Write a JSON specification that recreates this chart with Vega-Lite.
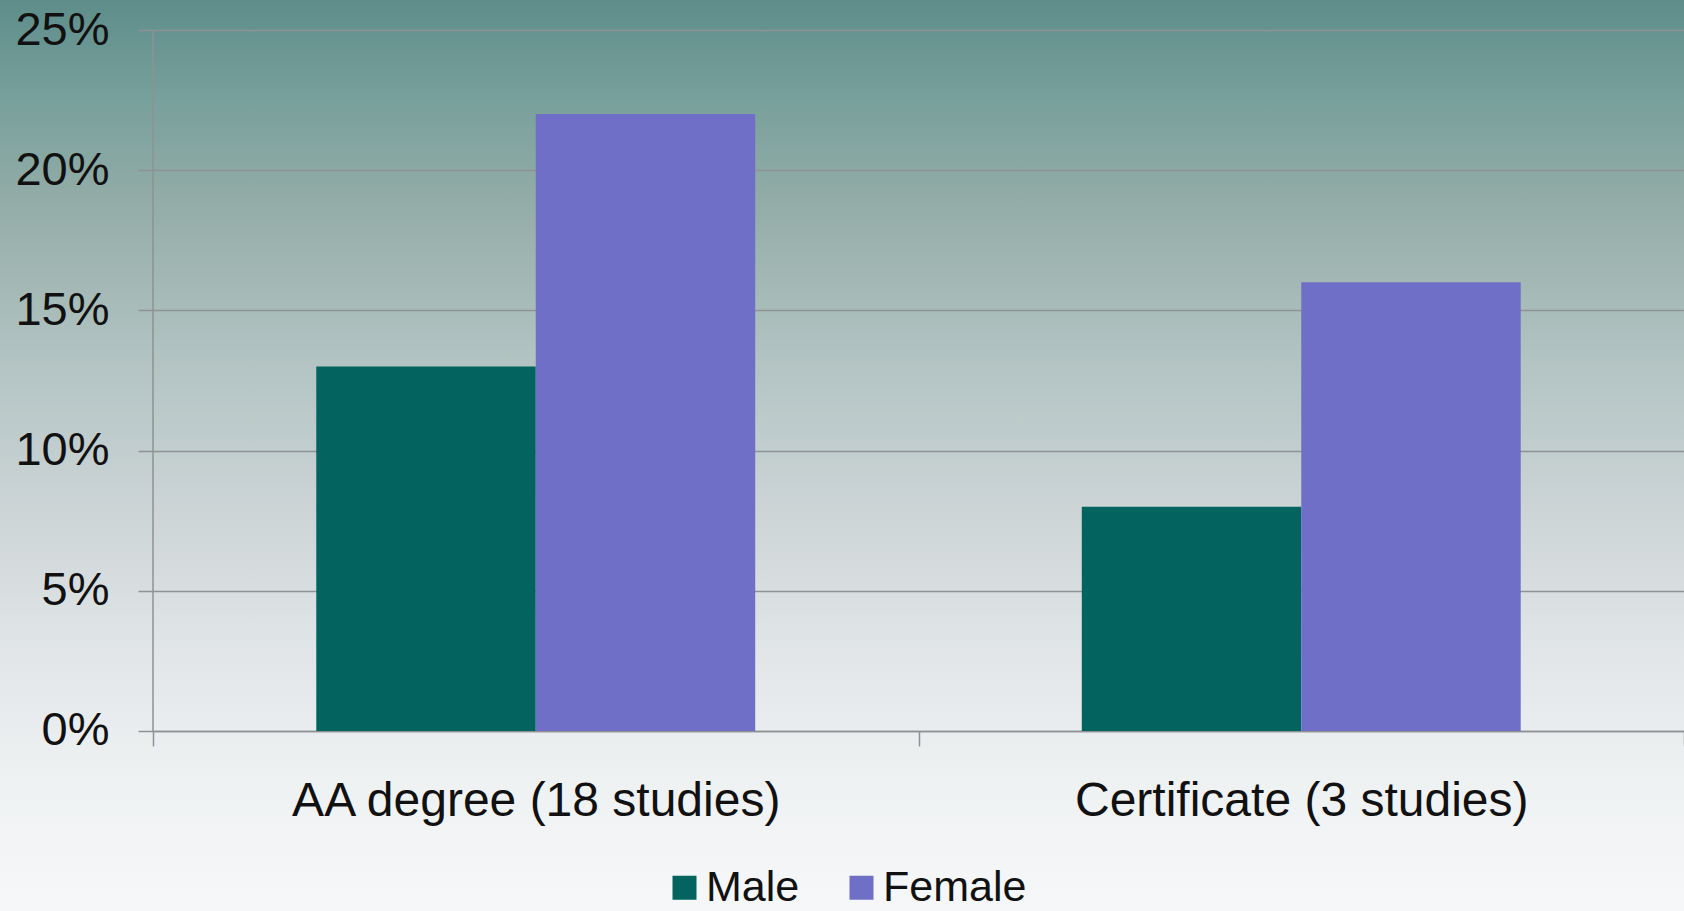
{
  "$schema": "https://vega.github.io/schema/vega-lite/v6.json",
  "width": 1684,
  "height": 911,
  "autosize": {"type": "none"},
  "padding": 0,
  "background": "#f6f7f8",
  "view": {
    "stroke": null,
    "fill": {
      "gradient": "linear",
      "x1": 0, "y1": 0, "x2": 0, "y2": 1,
      "stops": [
        {"offset": 0, "color": "#5e8d8a"},
        {"offset": 0.11, "color": "#78a09c"},
        {"offset": 0.22, "color": "#93aca7"},
        {"offset": 0.4, "color": "#b3c4c3"},
        {"offset": 0.56, "color": "#ccd4d6"},
        {"offset": 0.72, "color": "#e2e6e8"},
        {"offset": 0.85, "color": "#eef1f2"},
        {"offset": 1, "color": "#f6f7f8"}
      ]
    }
  },
  "config": {"font": "Liberation Sans"},
  "data": {
    "values": [
      {"category": "AA degree (18 studies)", "gender": "Male", "share": 0.13},
      {"category": "AA degree (18 studies)", "gender": "Female", "share": 0.22},
      {"category": "Certificate (3 studies)", "gender": "Male", "share": 0.08},
      {"category": "Certificate (3 studies)", "gender": "Female", "share": 0.16}
    ]
  },
  "layer": [
    {
      "data": {"values": [{}]},
      "mark": {"type": "rule", "color": "#8e9294", "strokeWidth": 1.5},
      "encoding": {
        "x": {"datum": "AA degree (18 studies)", "type": "nominal", "bandPosition": 0},
        "y": {"datum": 0.25, "type": "quantitative"},
        "y2": {"datum": 0}
      }
    },
    {
      "mark": {"type": "bar"},
      "encoding": {
        "x": {
          "field": "category",
          "type": "nominal",
          "sort": ["AA degree (18 studies)", "Certificate (3 studies)"],
          "scale": {"range": [153, 1684], "paddingInner": 0, "paddingOuter": 0},
          "axis": {
            "title": null,
            "orient": "bottom",
            "offset": -180,
            "tickBand": "extent",
            "tickSize": 15,
            "tickColor": "#8e9294",
            "tickWidth": 1.5,
            "domainColor": "#8e9294",
            "domainWidth": 1.5,
            "labelFontSize": 48,
            "labelPadding": 55,
            "labelAngle": 0,
            "labelAlign": "center",
            "labelColor": "#111111",
            "labelLimit": 0,
            "grid": false
          }
        },
        "xOffset": {
          "field": "gender",
          "type": "nominal",
          "sort": ["Male", "Female"],
          "scale": {"paddingInner": 0, "paddingOuter": 0.744}
        },
        "y": {
          "field": "share",
          "type": "quantitative",
          "scale": {"domain": [-0.0642, 0.2607], "nice": false, "zero": false},
          "axis": {
            "values": [0, 0.05, 0.1, 0.15, 0.2, 0.25],
            "format": ".0%",
            "title": null,
            "offset": -153,
            "domain": false,
            "ticks": true,
            "tickSize": 15,
            "tickColor": "#8e9294",
            "tickWidth": 1.5,
            "grid": true,
            "gridColor": "#8e9294",
            "gridWidth": 1.5,
            "labelFontSize": 47,
            "labelColor": "#111111",
            "labelPadding": 29
          }
        },
        "y2": {"datum": 0},
        "color": {
          "field": "gender",
          "type": "nominal",
          "scale": {"domain": ["Male", "Female"], "range": ["#02635f", "#6f6fc8"]},
          "legend": {
            "title": null,
            "orient": "none",
            "legendX": 663,
            "legendY": 866,
            "direction": "horizontal",
            "symbolType": "square",
            "symbolSize": 576,
            "symbolStrokeWidth": 0,
            "labelFontSize": 43,
            "labelColor": "#111111",
            "labelOffset": 0,
            "columnPadding": 40,
            "padding": 0,
            "labelLimit": 0
          }
        }
      }
    }
  ]
}
